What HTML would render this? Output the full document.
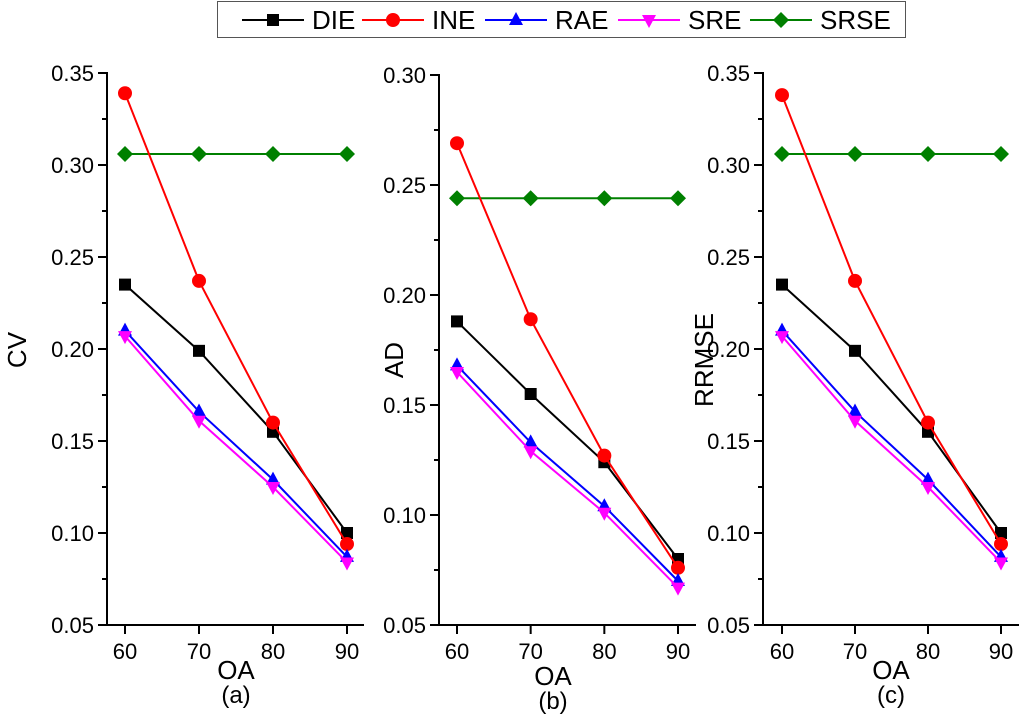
<!DOCTYPE html>
<html><head><meta charset="utf-8"><style>
html,body{margin:0;padding:0;background:#fff}
svg{display:block;font-family:"Liberation Sans",Arial,sans-serif}
</style></head><body>
<svg id="chart" width="1024" height="722" viewBox="0 0 1024 722"></svg>
<script>
const xCats=[60,70,80,90];
const seriesNames=["DIE","INE","RAE","SRE","SRSE"];
const colors=["#000000","#ff0000","#0000ff","#ff00ff","#008000"];
const markers=["square","circle","triUp","triDown","diamond"];
const cvDIE=[0.235,0.199,0.155,0.100];
const cvINE=[0.339,0.237,0.160,0.094];
const cvRAE=[0.210,0.166,0.129,0.087];
const cvSRE=[0.207,0.161,0.125,0.084];
const cvSRSE=[0.306,0.306,0.306,0.306];
const adDIE=[0.188,0.155,0.124,0.080];
const adINE=[0.269,0.189,0.127,0.076];
const adRAE=[0.168,0.133,0.104,0.070];
const adSRE=[0.165,0.129,0.101,0.067];
const adSRSE=[0.244,0.244,0.244,0.244];
const rrDIE=[0.235,0.199,0.155,0.100];
const rrINE=[0.338,0.237,0.160,0.094];
const rrRAE=[0.210,0.166,0.129,0.087];
const rrSRE=[0.207,0.161,0.125,0.084];
const rrSRSE=[0.306,0.306,0.306,0.306];
const ticksA=["0.05","0.10","0.15","0.20","0.25","0.30","0.35"];
const ticksB=["0.05","0.10","0.15","0.20","0.25","0.30"];

const NS="http://www.w3.org/2000/svg";
const svg=document.getElementById('chart');
function mk(tag,attrs,parent){const e=document.createElementNS(NS,tag);for(const k in attrs)e.setAttribute(k,attrs[k]);(parent||svg).appendChild(e);return e;}
function marker(g,type,x,y,c){
  let e;
  if(type==="square")e=mk('rect',{x:x-6,y:y-6,width:12,height:12,fill:c},g);
  else if(type==="circle")e=mk('circle',{cx:x,cy:y,r:7,fill:c},g);
  else if(type==="triUp")e=mk('polygon',{points:`${x},${y-8} ${x-7},${y+5} ${x+7},${y+5}`,fill:c},g);
  else if(type==="triDown")e=mk('polygon',{points:`${x},${y+8} ${x-7},${y-5} ${x+7},${y-5}`,fill:c},g);
  else e=mk('polygon',{points:`${x},${y-8} ${x+8},${y} ${x},${y+8} ${x-8},${y}`,fill:c},g);
  return e;
}
function panel(cfg){
  const g=mk('g',{});
  
  
  const X=v=>cfg.x60+(v-60)/30*(cfg.x90-cfg.x60);
  const Y=v=>cfg.yBot+(v-0.05)/(cfg.ymax-0.05)*(cfg.yTop-cfg.yBot);
  const ya=mk('line',{x1:cfg.ax,y1:cfg.yTop-1,x2:cfg.ax,y2:cfg.yBot,stroke:'#000','stroke-width':2},g);
  
  const xa=mk('line',{x1:cfg.ax,y1:cfg.yBot,x2:cfg.axEnd,y2:cfg.yBot,stroke:'#000','stroke-width':2},g);
  
  cfg.ticks.forEach((t,i)=>{
    const v=parseFloat(t),y=Y(v);
    mk('line',{x1:cfg.ax-9,y1:y,x2:cfg.ax,y2:y,stroke:'#000','stroke-width':2},g);
    if(i<cfg.ticks.length-1){const ym=Y(v+0.025);mk('line',{x1:cfg.ax-5,y1:ym,x2:cfg.ax,y2:ym,stroke:'#000','stroke-width':2},g);}
    const tl=mk('text',{x:cfg.ax-13,y:y+8,'text-anchor':'end','font-size':22},g);tl.textContent=t;
    
  });
  xCats.forEach(c=>{
    const x=X(c);
    mk('line',{x1:x,y1:cfg.yBot,x2:x,y2:cfg.yBot+9,stroke:'#000','stroke-width':2},g);
    const tl=mk('text',{x:x,y:cfg.yBot+34,'text-anchor':'middle','font-size':22},g);tl.textContent=c;
    
  });
  const xt=mk('text',{x:cfg.oaX,y:cfg.oaY,'text-anchor':'middle','font-size':26},g);xt.textContent='OA';
  
  const pl=mk('text',{x:cfg.oaX,y:cfg.oaY+24,'text-anchor':'middle','font-size':24},g);pl.textContent=cfg.label;
  
  const yt=mk('text',{x:cfg.ytX,y:cfg.ytY,'text-anchor':'middle','font-size':26,transform:`rotate(-90 ${cfg.ytX} ${cfg.ytY})`},g);yt.textContent=cfg.ytitle;
  
  const order=[4,0,1,2,3];
  order.forEach(si=>{
    const vals=cfg.data[si];
    const sg=mk('g',{},g);
    
    
    mk('polyline',{points:vals.map((v,i)=>X(xCats[i])+','+Y(v)).join(' '),fill:'none',stroke:colors[si],'stroke-width':2},sg);
    vals.forEach((v,i)=>{const m=marker(sg,markers[si],X(xCats[i]),Y(v),colors[si]);
      
      });
  });
}
panel({name:'panel-a',ax:107,axEnd:364,x60:125,x90:347,yTop:73,yBot:625,ymax:0.35,ticks:ticksA,
  data:[cvDIE,cvINE,cvRAE,cvSRE,cvSRSE],oaX:236,oaY:679,label:'(a)',ytitle:'CV',ytX:26,ytY:350});
panel({name:'panel-b',ax:439,axEnd:696,x60:457,x90:678,yTop:75,yBot:625,ymax:0.30,ticks:ticksB,
  data:[adDIE,adINE,adRAE,adSRE,adSRSE],oaX:553,oaY:685,label:'(b)',ytitle:'AD',ytX:403,ytY:360});
panel({name:'panel-c',ax:763,axEnd:1019,x60:782,x90:1001,yTop:73,yBot:625,ymax:0.35,ticks:ticksA,
  data:[rrDIE,rrINE,rrRAE,rrSRE,rrSRSE],oaX:891,oaY:679,label:'(c)',ytitle:'RRMSE',ytX:713,ytY:360});
const lg=mk('g',{});


mk('rect',{x:217.5,y:1.5,width:688,height:36,fill:'#fff',stroke:'#555','stroke-width':1},lg);
const lx=[242,362,485,618,750];
seriesNames.forEach((n,i)=>{
  const e=mk('g',{},lg);
  
  
  mk('line',{x1:lx[i],y1:20,x2:lx[i]+62,y2:20,stroke:colors[i],'stroke-width':2},e);
  marker(e,markers[i],lx[i]+31,20,colors[i]);
  const t=mk('text',{x:lx[i]+70,y:29,'font-size':26},e);t.textContent=n;
});
</script>
</body></html>
